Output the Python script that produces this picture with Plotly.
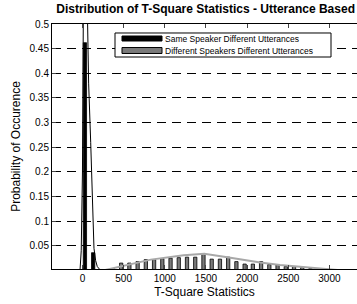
import plotly.graph_objects as go

# ---- data ----
bins = [50, 150, 250, 350, 450, 550, 650, 750, 850, 950, 1050, 1150, 1250, 1350,
        1450, 1550, 1650, 1750, 1850, 1950, 2050, 2150, 2250, 2350, 2450, 2550,
        2650, 2750, 2850, 2950, 3050, 3150]
same_speaker = [0.462, 0.036, 0.002, 0, 0, 0, 0, 0, 0, 0, 0, 0, 0, 0,
                0, 0, 0, 0, 0, 0, 0, 0, 0, 0, 0, 0, 0, 0, 0, 0, 0, 0]
diff_speaker = [0, 0, 0.001, 0.004, 0.015, 0.015, 0.018, 0.022, 0.022, 0.024, 0.025,
                0.026, 0.027, 0.027, 0.033, 0.023, 0.023, 0.027, 0.018, 0.013, 0.013,
                0.018, 0.012, 0.012, 0.008, 0.008, 0.006, 0.004, 0.004, 0.002, 0.001, 0.0005]

same_fit_x = [-200, -30, -15, 0, 10, 20, 35, 50, 60, 75, 100, 120, 140, 160, 180, 210, 260, 400]
same_fit_y = [0, 0, 0.04, 0.2, 0.5, 0.64, 0.68, 0.62, 0.48, 0.38, 0.26, 0.14, 0.045, 0.02, 0.008, 0.002, 0, 0]

diff_fit_x = [250, 460, 830, 1230, 1480, 1760, 1920, 2160, 2400, 2730, 2890, 3100, 3340]
diff_fit_y = [0.0, 0.008, 0.022, 0.031, 0.034, 0.027, 0.022, 0.016, 0.011, 0.006, 0.003, 0.001, 0.0005]

series_names = ["Same Speaker Different Utterances", "Different Speakers Different Utterances"]
y_ticks = [0.05, 0.1, 0.15, 0.2, 0.25, 0.3, 0.35, 0.4, 0.45, 0.5]
y_tick_text = ["0.05", "0.1", "0.15", "0.2", "0.25", "0.3", "0.35", "0.4", "0.45", "0.5"]
x_ticks = [0, 500, 1000, 1500, 2000, 2500, 3000]

FONT = "Arial, Liberation Sans, sans-serif"
GRAY = "#7a7a7a"

fig = go.Figure()
fig.add_trace(go.Bar(x=bins, y=same_speaker, name=series_names[0],
                     marker=dict(color="black", line=dict(color="black", width=0.8))))
fig.add_trace(go.Bar(x=bins, y=diff_speaker, name=series_names[1],
                     marker=dict(color=GRAY, line=dict(color="black", width=0.8))))
fig.add_trace(go.Scatter(x=same_fit_x, y=same_fit_y, mode="lines",
                         line=dict(color="black", width=1), showlegend=False))
fig.add_trace(go.Scatter(x=diff_fit_x, y=diff_fit_y, mode="lines",
                         line=dict(color="#a8a8a8", width=2), showlegend=False))

# manual MATLAB-style legend
lx0, lx1, ly0, ly1 = 0.2066, 0.9148, 0.8653, 0.9633
shapes = [dict(type="rect", xref="paper", yref="paper", x0=lx0, x1=lx1, y0=ly0, y1=ly1,
               fillcolor="white", line=dict(color="black", width=1))]
sw_y = [(0.9306, 0.951), (0.8796, 0.904)]
sw_col = ["black", GRAY]
annotations = []
for i in range(2):
    shapes.append(dict(type="rect", xref="paper", yref="paper", x0=0.2295, x1=0.3607,
                       y0=sw_y[i][0], y1=sw_y[i][1], fillcolor=sw_col[i],
                       line=dict(color="black", width=1)))
    annotations.append(dict(xref="paper", yref="paper", x=0.365, y=(sw_y[i][0] + sw_y[i][1]) / 2,
                            xanchor="left", yanchor="middle", showarrow=False,
                            text=series_names[i], font=dict(family=FONT, size=8.5, color="black")))

fig.update_layout(
    width=357, height=304,
    margin=dict(l=52, r=0, t=24, b=35),
    paper_bgcolor="white", plot_bgcolor="white",
    barmode="group", bargap=0.2, bargroupgap=0,
    showlegend=False,
    font=dict(family=FONT, size=10, color="black"),
    title=dict(text="<b>Distribution of T-Square Statistics - Utterance Based</b>",
               x=0.576, xanchor="center", y=0.97, yanchor="middle",
               font=dict(family=FONT, size=12, color="black")),
    shapes=shapes, annotations=annotations,
)
fig.update_xaxes(range=[-370, 3335], tickvals=x_ticks, ticks="inside", ticklen=4,
                 showline=True, linecolor="black", linewidth=1, mirror="allticks",
                 showgrid=False, zeroline=False, tickfont=dict(size=10),
                 title=dict(text="T-Square Statistics", font=dict(size=12), standoff=4))
fig.update_yaxes(range=[0.003, 0.5], tickvals=y_ticks, ticktext=y_tick_text,
                 ticks="inside", ticklen=4, showline=True, linecolor="black", linewidth=1,
                 showgrid=True, gridcolor="black", gridwidth=1, griddash="9px,6px",
                 zeroline=False, tickfont=dict(size=10),
                 title=dict(text="Probability of Occurence", font=dict(size=12), standoff=6))

fig.write_html("out.html", config={"displayModeBar": False},
               post_script="document.body.style.margin='0';")
